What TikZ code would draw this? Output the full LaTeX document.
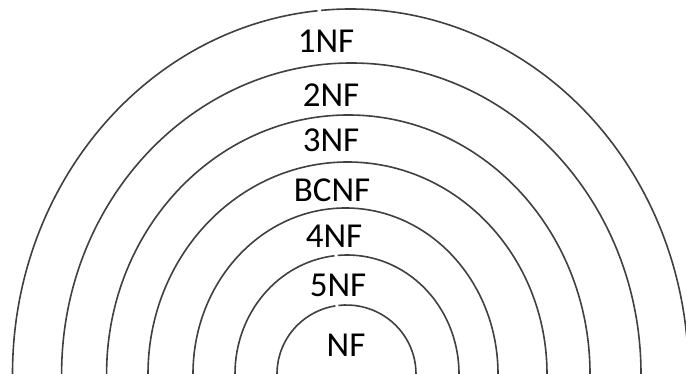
\documentclass[tikz,border=0pt]{standalone}
\usepackage{fontspec}
\setmainfont{Carlito}

\begin{document}
\begin{tikzpicture}[x=1pt, y=1pt,
  ring/.style={line width=1.6pt, color=black!75},
  nflabel/.style={font=\fontsize{35}{40}\selectfont, anchor=base, inner sep=0pt}
]
\path[fill=white, use as bounding box] (0,0) rectangle (686,374);
\clip (0,0) rectangle (686,374);

% --- Nested rings, outermost first (some split at the top) ---
\draw[ring] (12.5,0) arc[start angle=180, end angle=95.6, x radius=338, y radius=365];
\draw[ring] (688.5,0) arc[start angle=0, end angle=95.0, x radius=338, y radius=365];
\draw[ring] (61.6,0) arc[start angle=180, end angle=0, x radius=289.7, y radius=311];
\draw[ring] (106.6,0) arc[start angle=180, end angle=0, x radius=241.7, y radius=259];
\draw[ring] (148,0) arc[start angle=180, end angle=0, x radius=199.5, y radius=212];
\draw[ring] (193,0) arc[start angle=180, end angle=0, x radius=152.5, y radius=166];
\draw[ring] (235,0) arc[start angle=180, end angle=96.4, x radius=112, y radius=119];
\draw[ring] (459,0) arc[start angle=0, end angle=94.8, x radius=112, y radius=119];
\draw[ring] (277,0) arc[start angle=180, end angle=99.2, x radius=69.5, y radius=69];
\draw[ring] (416,0) arc[start angle=0, end angle=96.7, x radius=69.5, y radius=69];

% --- Normal form labels ---
\node[nflabel] (nf1) at (326,321) {1NF};
\node[nflabel] (nf2) at (331,267) {2NF};
\node[nflabel] (nf3) at (331,222) {3NF};
\node[nflabel] (bcnf) at (332,172) {BCNF};
\node[nflabel] (nf4) at (334,126) {4NF};
\node[nflabel] (nf5) at (338,77) {5NF};
\node[nflabel] (nf) at (346,17) {NF};

\end{tikzpicture}
\end{document}
